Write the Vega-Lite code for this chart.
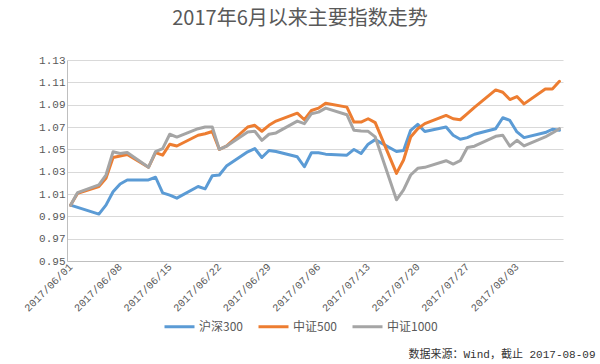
{
  "$schema": "https://vega.github.io/schema/vega-lite/v6.json",
  "width": 496,
  "height": 201,
  "autosize": {"type": "none"},
  "padding": {"left": 67, "top": 60, "right": 37, "bottom": 103},
  "background": "white",
  "title": {
    "text": "2017年6月以来主要指数走势",
    "font": "Noto Sans CJK SC",
    "fontSize": 20,
    "fontWeight": "normal",
    "color": "#595959",
    "anchor": "middle",
    "frame": "group",
    "dx": -15,
    "offset": 9,
    "baseline": "alphabetic"
  },
  "data": {
    "values": [
      {"date": "2017-06-01", "沪深300": 1.000, "中证500": 1.000, "中证1000": 1.000},
      {"date": "2017-06-02", "沪深300": 0.998, "中证500": 1.0107, "中证1000": 1.0113},
      {"date": "2017-06-05", "沪深300": 0.992, "中证500": 1.0167, "中证1000": 1.0181},
      {"date": "2017-06-06", "沪深300": 1.000, "中证500": 1.024, "中证1000": 1.027},
      {"date": "2017-06-07", "沪深300": 1.012, "中证500": 1.0427, "中证1000": 1.0478},
      {"date": "2017-06-08", "沪深300": 1.019, "中证500": 1.044, "中证1000": 1.0463},
      {"date": "2017-06-09", "沪深300": 1.0226, "中证500": 1.0454, "中证1000": 1.0472},
      {"date": "2017-06-12", "沪深300": 1.0226, "中证500": 1.0339, "中证1000": 1.0339},
      {"date": "2017-06-13", "沪深300": 1.025, "中证500": 1.047, "中证1000": 1.048},
      {"date": "2017-06-14", "沪深300": 1.011, "中证500": 1.0448, "中证1000": 1.0507},
      {"date": "2017-06-15", "沪深300": 1.009, "中证500": 1.0546, "中证1000": 1.0635},
      {"date": "2017-06-16", "沪深300": 1.0063, "中证500": 1.053, "中证1000": 1.061},
      {"date": "2017-06-19", "沪深300": 1.0167, "中证500": 1.0626, "中证1000": 1.0685},
      {"date": "2017-06-20", "沪深300": 1.0146, "中证500": 1.064, "中证1000": 1.070},
      {"date": "2017-06-21", "沪深300": 1.0264, "中证500": 1.066, "中证1000": 1.070},
      {"date": "2017-06-22", "沪深300": 1.027, "中证500": 1.050, "中证1000": 1.050},
      {"date": "2017-06-23", "沪深300": 1.035, "中证500": 1.0528, "中证1000": 1.0528},
      {"date": "2017-06-26", "沪深300": 1.0478, "中证500": 1.070, "中证1000": 1.0656},
      {"date": "2017-06-27", "沪深300": 1.0507, "中证500": 1.0715, "中证1000": 1.0662},
      {"date": "2017-06-28", "沪深300": 1.0427, "中证500": 1.0662, "中证1000": 1.0581},
      {"date": "2017-06-29", "沪深300": 1.049, "中证500": 1.0715, "中证1000": 1.0635},
      {"date": "2017-06-30", "沪深300": 1.048, "中证500": 1.0753, "中证1000": 1.0647},
      {"date": "2017-07-03", "沪深300": 1.0433, "中证500": 1.0824, "中证1000": 1.0753},
      {"date": "2017-07-04", "沪深300": 1.0344, "中证500": 1.0765, "中证1000": 1.073},
      {"date": "2017-07-05", "沪深300": 1.0469, "中证500": 1.0848, "中证1000": 1.0819},
      {"date": "2017-07-06", "沪深300": 1.0469, "中证500": 1.0869, "中证1000": 1.0833},
      {"date": "2017-07-07", "沪深300": 1.0457, "中证500": 1.0913, "中证1000": 1.0869},
      {"date": "2017-07-10", "沪深300": 1.0448, "中证500": 1.0878, "中证1000": 1.081},
      {"date": "2017-07-11", "沪深300": 1.0499, "中证500": 1.0744, "中证1000": 1.067},
      {"date": "2017-07-12", "沪深300": 1.0463, "中证500": 1.0744, "中证1000": 1.0664},
      {"date": "2017-07-13", "沪深300": 1.0546, "中证500": 1.0774, "中证1000": 1.0661},
      {"date": "2017-07-14", "沪深300": 1.0587, "中证500": 1.0739, "中证1000": 1.0611},
      {"date": "2017-07-17", "沪深300": 1.048, "中证500": 1.0285, "中证1000": 1.0048},
      {"date": "2017-07-18", "沪深300": 1.049, "中证500": 1.0404, "中证1000": 1.0137},
      {"date": "2017-07-19", "沪深300": 1.067, "中证500": 1.0611, "中证1000": 1.027},
      {"date": "2017-07-20", "沪深300": 1.0724, "中证500": 1.0685, "中证1000": 1.033},
      {"date": "2017-07-21", "沪深300": 1.066, "中证500": 1.073, "中证1000": 1.0339},
      {"date": "2017-07-24", "沪深300": 1.070, "中证500": 1.0804, "中证1000": 1.0398},
      {"date": "2017-07-25", "沪深300": 1.0626, "中证500": 1.0774, "中证1000": 1.0368},
      {"date": "2017-07-26", "沪深300": 1.059, "中证500": 1.0765, "中证1000": 1.0398},
      {"date": "2017-07-27", "沪深300": 1.0605, "中证500": 1.0819, "中证1000": 1.0516},
      {"date": "2017-07-28", "沪深300": 1.0635, "中证500": 1.0875, "中证1000": 1.0528},
      {"date": "2017-07-31", "沪深300": 1.0685, "中证500": 1.1032, "中证1000": 1.0617},
      {"date": "2017-08-01", "沪深300": 1.0783, "中证500": 1.1011, "中证1000": 1.0626},
      {"date": "2017-08-02", "沪深300": 1.0759, "中证500": 1.0946, "中证1000": 1.0528},
      {"date": "2017-08-03", "沪深300": 1.0656, "中证500": 1.0973, "中证1000": 1.0581},
      {"date": "2017-08-04", "沪深300": 1.0605, "中证500": 1.0907, "中证1000": 1.0531},
      {"date": "2017-08-07", "沪深300": 1.065, "中证500": 1.1041, "中证1000": 1.0611},
      {"date": "2017-08-08", "沪深300": 1.068, "中证500": 1.1041, "中证1000": 1.0647},
      {"date": "2017-08-09", "沪深300": 1.067, "中证500": 1.1109, "中证1000": 1.0685}
    ]
  },
  "transform": [
    {"fold": ["沪深300", "中证500", "中证1000"], "as": ["series", "value"]}
  ],
  "mark": {"type": "line", "strokeWidth": 3, "strokeJoin": "round", "strokeCap": "round"},
  "encoding": {
    "x": {
      "field": "date",
      "type": "temporal",
      "scale": {
        "type": "utc",
        "domain": [
          {"year": 2017, "month": 5, "date": 31, "hours": 12, "utc": true},
          {"year": 2017, "month": 8, "date": 9, "hours": 12, "utc": true}
        ]
      },
      "axis": {
        "values": [
          {"year": 2017, "month": 6, "date": 1, "utc": true},
          {"year": 2017, "month": 6, "date": 8, "utc": true},
          {"year": 2017, "month": 6, "date": 15, "utc": true},
          {"year": 2017, "month": 6, "date": 22, "utc": true},
          {"year": 2017, "month": 6, "date": 29, "utc": true},
          {"year": 2017, "month": 7, "date": 6, "utc": true},
          {"year": 2017, "month": 7, "date": 13, "utc": true},
          {"year": 2017, "month": 7, "date": 20, "utc": true},
          {"year": 2017, "month": 7, "date": 27, "utc": true},
          {"year": 2017, "month": 8, "date": 3, "utc": true}
        ],
        "format": "%Y/%m/%d",
        "labelAngle": -45,
        "labelAlign": "right",
        "labelBaseline": "middle",
        "labelFont": "Liberation Mono",
        "labelFontSize": 10.5,
        "labelColor": "#595959",
        "labelPadding": 4,
        "labelFlush": false,
        "labelOverlap": false,
        "ticks": false,
        "grid": false,
        "domainColor": "#bfbfbf",
        "domainWidth": 1,
        "title": "数据来源：Wind，截止 2017-08-09",
        "titleX": 528,
        "titleY": 96,
        "titleAlign": "right",
        "titleBaseline": "alphabetic",
        "titleFont": "Liberation Mono, Noto Sans CJK SC",
        "titleFontSize": 11,
        "titleFontWeight": "normal",
        "titleColor": "#333333"
      }
    },
    "y": {
      "field": "value",
      "type": "quantitative",
      "scale": {"domain": [0.95, 1.13], "zero": false, "nice": false},
      "axis": {
        "values": [0.95, 0.97, 0.99, 1.01, 1.03, 1.05, 1.07, 1.09, 1.11, 1.13],
        "format": ".2f",
        "labelFont": "Liberation Mono",
        "labelFontSize": 11,
        "labelColor": "#595959",
        "labelPadding": 2,
        "ticks": false,
        "gridColor": "#d9d9d9",
        "domainColor": "#bfbfbf",
        "title": null
      }
    },
    "color": {
      "field": "series",
      "type": "nominal",
      "scale": {
        "domain": ["沪深300", "中证500", "中证1000"],
        "range": ["#5B9BD5", "#ED7D31", "#A5A5A5"]
      },
      "legend": {
        "orient": "none",
        "legendX": 96,
        "legendY": 250,
        "direction": "horizontal",
        "columns": 3,
        "title": null,
        "symbolType": "stroke",
        "symbolSize": 900,
        "symbolStrokeWidth": 3,
        "labelFont": "Noto Sans CJK SC",
        "labelFontSize": 12,
        "labelColor": "#595959",
        "labelOffset": 3,
        "columnPadding": 9,
        "padding": 0
      }
    }
  },
  "config": {"view": {"stroke": null}}
}
